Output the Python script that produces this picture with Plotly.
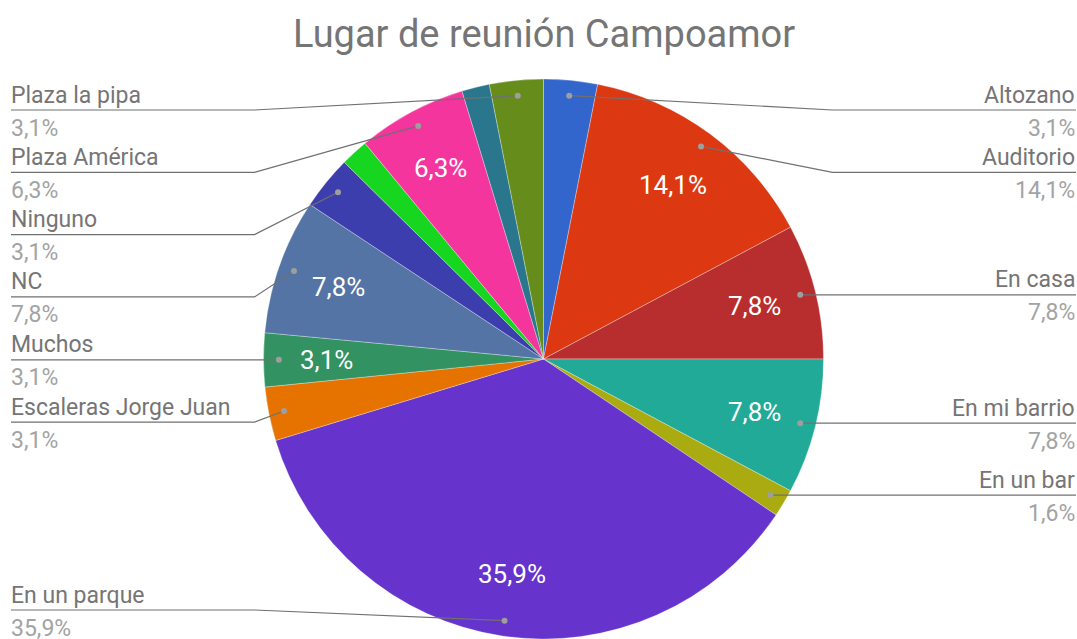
import math
import plotly.graph_objects as go

# ---------------- data ----------------
chart_title = "Lugar de reunión Campoamor"
categories = ["Altozano", "Auditorio", "En casa", "En mi barrio", "En un bar",
              "En un parque", "Escaleras Jorge Juan", "Muchos", "NC", "Ninguno",
              "(sin etiqueta 1)", "Plaza América", "(sin etiqueta 2)", "Plaza la pipa"]
percent_values = [3.1, 14.1, 7.8, 7.8, 1.6, 35.9, 3.1, 3.1, 7.8, 3.1, 1.6, 6.3, 1.6, 3.1]
label_visible = [True, True, True, True, True, True, True, True, True, True,
                 False, True, False, True]
inside_visible = [False, True, True, True, False, True, False, True, True, False,
                  False, True, False, False]
slice_colors = ["#3366cc", "#dc3912", "#b82e2e", "#22aa99", "#aaaa11", "#6633cc",
                "#e67300", "#329262", "#5574a6", "#3b3eac", "#16d620", "#f4359e",
                "#2a778d", "#668d1c"]

# ---------------- layout geometry (pixels) ----------------
W, H = 1077, 639
CX, CY, R = 543.5, 359.0, 280.0
FONT = "Roboto"
NAME_COLOR = "#757575"
PCT_COLOR = "#a3a3a3"
LINE_COLOR = "#707070"
DOT_COLOR = "#9e9e9e"
LABEL_SIZE = 23
INSIDE_SIZE = 26
TITLE_SIZE = 38
TOP_LIMIT, BOTTOM_LIMIT, SPACING = 110.0, 610.0, 62.3
LEFT_EDGE, RIGHT_EDGE = 11.0, 1076.0


def px(x):
    return x / W


def py(y):
    return 1.0 - y / H


def fmt(v):
    return f"{v:.1f}".replace(".", ",") + "%"


total = sum(percent_values)
mid_angles = []
acc = 0.0
for v in percent_values:
    mid_angles.append((acc + v / 2.0) / total * 2 * math.pi)
    acc += v


def polar(frac, ang):
    return CX + frac * R * math.sin(ang), CY - frac * R * math.cos(ang)


fig = go.Figure(go.Pie(
    labels=categories,
    values=percent_values,
    sort=False,
    direction="clockwise",
    rotation=0,
    textinfo="none",
    marker=dict(colors=slice_colors, line=dict(color="rgba(255,255,255,0.5)", width=0.6)),
    domain=dict(x=[px(CX - R), px(CX + R)], y=[max(0.0, py(CY + R)), py(CY - R)]),
    showlegend=False,
    hovertemplate="%{label}<br>%{value}%<extra></extra>",
))

annotations = []
shapes = []

# inside labels
for i, v in enumerate(percent_values):
    if not inside_visible[i]:
        continue
    x, y = polar(0.775, mid_angles[i])
    annotations.append(dict(x=px(x), y=py(y), xref="paper", yref="paper",
                            text=fmt(v), showarrow=False, xanchor="center", yanchor="middle",
                            font=dict(family=FONT, size=INSIDE_SIZE, color="white")))

# outside labels with leader lines
items = {"left": [], "right": []}
for i, v in enumerate(percent_values):
    if not label_visible[i]:
        continue
    dx, dy = polar(0.945, mid_angles[i])
    side = "right" if mid_angles[i] < math.pi else "left"
    items[side].append([dy, i, dx, dy])

for side, lst in items.items():
    lst.sort(key=lambda t: t[0])
    prev = None
    for it in lst:
        y = max(it[0], TOP_LIMIT)
        if prev is not None:
            y = max(y, prev + SPACING)
        it[0] = y
        prev = y
    nxt = None
    for it in reversed(lst):
        y = min(it[0], BOTTOM_LIMIT)
        if nxt is not None:
            y = min(y, nxt - SPACING)
        it[0] = y
        nxt = y
    for ly, i, dx, dy in lst:
        if side == "right":
            kx, ex, anchor, tx = CX + R + 9, RIGHT_EDGE, "right", RIGHT_EDGE + 1
        else:
            kx, ex, anchor, tx = CX - R - 9, LEFT_EDGE, "left", LEFT_EDGE - 2
        shapes.append(dict(type="path", xref="paper", yref="paper", layer="above",
                           path=f"M {px(dx)},{py(dy)} L {px(kx)},{py(ly)} L {px(ex)},{py(ly)}",
                           line=dict(color=LINE_COLOR, width=1.2)))
        shapes.append(dict(type="circle", xref="paper", yref="paper", layer="above",
                           x0=px(dx - 3), x1=px(dx + 3), y0=py(dy + 3), y1=py(dy - 3),
                           fillcolor=DOT_COLOR, line=dict(width=0)))
        annotations.append(dict(x=px(tx), y=py(ly - 15), xref="paper", yref="paper",
                                text=categories[i], showarrow=False, xanchor=anchor,
                                yanchor="middle",
                                font=dict(family=FONT, size=LABEL_SIZE, color=NAME_COLOR)))
        annotations.append(dict(x=px(tx), y=py(ly + 18), xref="paper", yref="paper",
                                text=fmt(percent_values[i]), showarrow=False, xanchor=anchor,
                                yanchor="middle",
                                font=dict(family=FONT, size=LABEL_SIZE, color=PCT_COLOR)))

annotations.append(dict(x=px(544), y=py(34), xref="paper", yref="paper", text=chart_title,
                        showarrow=False, xanchor="center", yanchor="middle",
                        font=dict(family=FONT, size=TITLE_SIZE, color="#757575")))

fig.update_layout(
    width=W, height=H, autosize=False,
    margin=dict(l=0, r=0, t=0, b=0, pad=0),
    paper_bgcolor="white", plot_bgcolor="white",
    annotations=annotations, shapes=shapes,
    font=dict(family=FONT),
)

fig.write_html("out.html", config={"displayModeBar": False},
               post_script="document.body.style.margin='0';document.body.style.overflow='hidden';")
